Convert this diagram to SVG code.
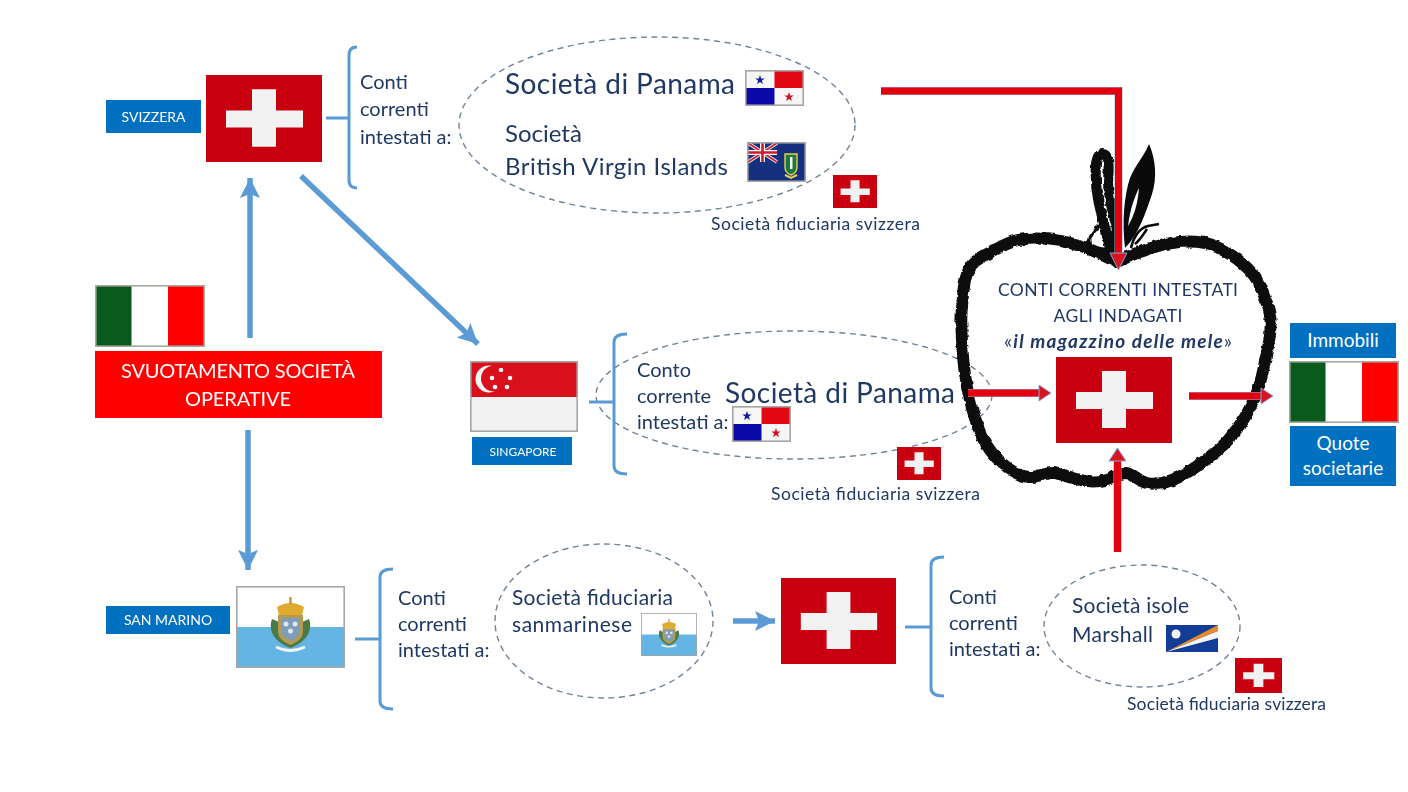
<svg xmlns="http://www.w3.org/2000/svg" xmlns:xlink="http://www.w3.org/1999/xlink" width="1408" height="792" viewBox="0 0 1408 792">
<style>
text{font-family:Lato,"Noto Sans","Liberation Sans",sans-serif;fill:#1f3864}
.w{fill:#fff;text-anchor:middle}
.body{font-size:20px}
.small{font-size:17.5px}
.big{font-size:28px}
.mid{font-size:24px}
.fid{font-size:21px}
.oval{fill:none;stroke:#6f8498;stroke-width:1.4;stroke-dasharray:6 4.5}
.br{fill:none;stroke:#5b9bd5;stroke-width:3}
.blue{fill:none;stroke:#5b9bd5;stroke-width:5.5}
.redO{fill:none;stroke:#8fb4da;stroke-width:8}
.red{fill:none;stroke:#e3000f;stroke-width:7}
.head{fill:#d8141f;stroke:#7fa8d4;stroke-width:1}
.lbl{fill:#0070c0}
</style>
<defs>
<marker id="ab" markerUnits="userSpaceOnUse" markerWidth="22" markerHeight="24" refX="20" refY="12" orient="auto"><path d="M0,2 L20,12 L0,22 L4,12 Z" fill="#5b9bd5"/></marker>
<symbol id="ch" viewBox="0 0 116 86" preserveAspectRatio="none"><rect width="116" height="86" fill="#c8000f"/><path d="M46,14H70V35H97V52H70V71H46V52H20V35H46Z" fill="#f2f2f2"/></symbol>
<symbol id="it" viewBox="0 0 110 62" preserveAspectRatio="none"><rect width="110" height="62" fill="#fff"/><rect width="36.5" height="62" fill="#0b5a1d"/><rect x="73" width="37" height="62" fill="#f00"/><rect x="0.8" y="0.8" width="108.4" height="60.4" fill="none" stroke="#a8a8a0" stroke-width="1.6"/></symbol>
<symbol id="pa" viewBox="0 0 59 36" preserveAspectRatio="none"><rect width="59" height="36" fill="#f6f6f6"/><rect x="29.5" y="1" width="28.5" height="17" fill="#e30613"/><rect x="1" y="18" width="28.5" height="17" fill="#0a0aa8"/><path d="M15,5l1.2,3.4h3.5l-2.8,2.1 1,3.4-2.9-2-2.9,2 1-3.4-2.8-2.1h3.5Z" fill="#1a1a9c"/><path d="M44,22l1.2,3.4h3.5l-2.8,2.1 1,3.4-2.9-2-2.9,2 1-3.4-2.8-2.1h3.5Z" fill="#d01020"/><rect x="0.8" y="0.8" width="57.4" height="34.4" fill="none" stroke="#a6a6a6" stroke-width="1.6"/></symbol>
<symbol id="vg" viewBox="0 0 59 40" preserveAspectRatio="none"><rect width="59" height="40" fill="#14307f"/><path d="M1,1L30,20M30,1L1,20" stroke="#e9e9ee" stroke-width="3.500"/><path d="M1,1L30,20M30,1L1,20" stroke="#c81e30" stroke-width="1.500"/><path d="M15.5,1V20M1,10.5H30" stroke="#fff" stroke-width="5"/><path d="M15.5,1V20M1,10.5H30" stroke="#c81e30" stroke-width="2.6"/><path d="M38,12H50V25Q50,31 44,33Q38,31 38,25Z" fill="#1e7a3c" stroke="#e8d050" stroke-width="1.4"/><path d="M38,33L44,36L50,33" fill="none" stroke="#e8d050" stroke-width="2"/><rect x="43" y="15" width="2.500" height="12" fill="#f4f4f0"/><rect x="0.8" y="0.8" width="57.4" height="38.4" fill="none" stroke="#a6a6a6" stroke-width="1.6"/></symbol>
<symbol id="sg" viewBox="0 0 108 71" preserveAspectRatio="none"><rect width="108" height="71" fill="#f2f2f2"/><rect width="108" height="36" fill="#d7101c"/><circle cx="19" cy="18" r="13.5" fill="#f4f4f4"/><circle cx="24" cy="17.500" r="13" fill="#d7101c"/><g fill="#f4f4f4"><circle cx="31" cy="9" r="2.3"/><circle cx="22" cy="17" r="2.3"/><circle cx="40" cy="17" r="2.3"/><circle cx="25" cy="26" r="2.3"/><circle cx="37" cy="26" r="2.3"/></g><rect x="0.8" y="0.8" width="106.4" height="69.4" fill="none" stroke="#a6a6a6" stroke-width="1.6"/></symbol>
<symbol id="sm" viewBox="0 0 109 82" preserveAspectRatio="none"><rect width="109" height="82" fill="#fff"/><rect y="41" width="109" height="41" fill="#64b4e4"/><path d="M36,33C32,44 38,56 54.500,62C71,56 77,44 73,33L66,36V50L54.500,56L43,50V36Z" fill="#4c7a46"/><path d="M42,29H67V46Q67,54 54.500,59Q42,54 42,46Z" fill="#b59a52"/><path d="M45.500,32H63.500V45Q63.500,51 54.500,55Q45.500,51 45.500,45Z" fill="#7f9cb8"/><g fill="#dfe7ee"><circle cx="50" cy="38" r="2.500"/><circle cx="59" cy="38" r="2.500"/><circle cx="54.500" cy="45" r="2.500"/></g><path d="M43,29L41,21Q48,17 54.500,17Q61,17 68,21L66,29Z" fill="#e0a92f"/><rect x="53.300" y="11" width="2.400" height="7" fill="#c8962a"/><path d="M40,61Q54,68 69,61" fill="none" stroke="#f2f2f2" stroke-width="3"/><rect x="0.8" y="0.8" width="107.4" height="80.4" fill="none" stroke="#a6a6a6" stroke-width="1.6"/></symbol>
<symbol id="mh" viewBox="0 0 52 27" preserveAspectRatio="none"><rect width="52" height="27" fill="#123c96"/><path d="M0,27L52,0V6Z" fill="#e8892a"/><path d="M0,27L52,6V13Z" fill="#f4f4f4"/><circle cx="10" cy="9" r="4.500" fill="#f4f4f4"/></symbol>
<filter id="rough" x="-5%" y="-5%" width="110%" height="110%"><feTurbulence type="fractalNoise" baseFrequency="0.14" numOctaves="3" seed="4"/><feDisplacementMap in="SourceGraphic" scale="4" xChannelSelector="R" yChannelSelector="G"/></filter>
</defs>
<rect width="1408" height="792" fill="#fff"/>

<g id="ovals">
<ellipse class="oval" cx="657" cy="125" rx="198" ry="88"/>
<ellipse class="oval" cx="794" cy="395" rx="198" ry="64"/>
<ellipse class="oval" cx="604" cy="621" rx="109" ry="77"/>
<ellipse class="oval" cx="1142" cy="626" rx="98" ry="61"/>
</g>

<g id="apple">
<g filter="url(#rough)" fill="none" stroke="#0a0a0a">
<path transform="translate(1117 360) scale(0.985 1) translate(-1117 -360)" stroke-width="12" d="M1117,262C1128,257 1134,254 1140,252C1152,248 1162,244 1173,243C1185,241 1196,241 1207,243C1217,245 1225,250 1233,255C1242,261 1251,268 1257,277C1262,284 1265,292 1268,300C1271,308 1273,315 1273,323C1273,335 1271,346 1268,357C1266,368 1264,379 1260,390C1257,399 1252,408 1247,417C1242,425 1236,433 1230,440C1222,449 1212,456 1203,463C1193,470 1184,476 1173,480C1165,483 1155,485 1147,483C1139,481 1134,474 1127,473C1120,472 1114,478 1107,480C1098,482 1089,482 1080,480C1071,478 1062,474 1053,473C1044,472 1036,478 1027,477C1017,476 1008,470 1000,463C992,456 985,447 980,437C974,424 970,410 967,397C963,381 961,364 960,347C959,332 958,318 960,303C961,290 962,277 968,267C972,260 980,257 987,253C997,248 1006,242 1017,240C1029,238 1041,238 1053,240C1064,241 1074,244 1083,247C1095,251 1106,257 1117,262Z"/>
<path stroke-width="10" d="M1110,250C1107,228 1096,205 1096,180C1095,165 1096,154 1102,154C1110,154 1109,168 1108,182C1108,198 1113,212 1116,224C1118,236 1116,248 1115,256"/>
<path stroke-width="3.500" d="M1104,222C1092,232 1086,240 1092,246C1098,250 1106,248 1111,252"/>
</g>
<path fill="#0a0a0a" d="M1125,248C1122,222 1124,196 1130,178C1136,164 1143,158 1149,144C1156,160 1157,178 1152,194C1146,212 1139,234 1125,248Z"/>
<path fill="#fff" d="M1128,226C1130,210 1134,198 1139,188C1138,203 1134,216 1128,226Z"/>
<path fill="none" stroke="#0a0a0a" stroke-width="2.500" d="M1131,248C1133,238 1139,228 1148,226L1159,224M1135,244C1140,240 1143,235 1147,229"/>
</g>

<g id="connectors">
<path class="blue" marker-end="url(#ab)" d="M250,338V178"/>
<path class="blue" marker-end="url(#ab)" d="M248,430V570"/>
<path class="blue" marker-end="url(#ab)" d="M301,176L478,344"/>
<path class="blue" marker-end="url(#ab)" d="M733,621H775"/>
<path class="br" d="M326,118H349M357,47Q349,47 349,55V180Q349,188 357,188"/>
<path class="br" d="M589,402H614M627,334Q614,334 614,342V466Q614,474 627,474"/>
<path class="br" d="M355,639H380M393,569Q380,569 380,577V701Q380,709 393,709"/>
<path class="br" d="M905,627H931M944,557Q931,557 931,565V688Q931,696 944,696"/>
<path class="redO" d="M881,91H1118.500V255"/>
<path class="red" d="M881,91H1118.500V258"/>
<path class="head" d="M1110,253H1127L1118.500,270Z"/>
<path class="redO" d="M968,393H1040"/><path class="red" d="M968,393H1040"/>
<path class="head" d="M1039,385L1051,393L1039,401Z"/>
<path class="redO" d="M1189,396H1262"/><path class="red" d="M1189,396H1262"/>
<path class="head" d="M1261,388L1273,396L1261,404Z"/>
<path class="redO" d="M1117.500,552V460"/><path class="red" d="M1117.500,552V460"/>
<path class="head" d="M1109,461L1117.500,448L1126,461Z"/>
</g>

<g id="node-italia">
<use href="#it" xlink:href="#it" x="95" y="285" width="110" height="62"/>
<rect x="95" y="351" width="287" height="67" fill="#f00"/>
<text class="w" x="238" y="378" style="font-size:20px" textLength="234">SVUOTAMENTO SOCIETÀ</text>
<text class="w" x="238" y="406" style="font-size:20px" textLength="106">OPERATIVE</text>
</g>

<g id="node-svizzera">
<rect class="lbl" x="106" y="100" width="95" height="33"/>
<text class="w" x="153.500" y="122" style="font-size:14px">SVIZZERA</text>
<use href="#ch" xlink:href="#ch" x="206" y="75" width="116" height="87"/>
<text class="body" x="360" y="89">Conti</text>
<text class="body" x="360" y="116">correnti</text>
<text class="body" x="360" y="144">intestati a:</text>
</g>

<g id="node-top-oval">
<text class="big" x="505" y="94" textLength="230">Società di Panama</text>
<use href="#pa" xlink:href="#pa" x="745" y="70" width="59" height="36"/>
<text class="mid" x="505" y="142">Società</text>
<text class="mid" x="505" y="175" textLength="223">British Virgin Islands</text>
<use href="#vg" xlink:href="#vg" x="747" y="142" width="59" height="40"/>
<use href="#ch" xlink:href="#ch" x="833" y="175" width="44" height="33"/>
<text class="small" x="711" y="230" textLength="209">Società fiduciaria svizzera</text>
</g>

<g id="node-singapore">
<use href="#sg" xlink:href="#sg" x="470" y="361" width="108" height="71"/>
<rect class="lbl" x="472" y="437" width="100" height="28"/>
<text class="w" x="523" y="456" style="font-size:12px">SINGAPORE</text>
<text class="body" x="637" y="377">Conto</text>
<text class="body" x="637" y="403">corrente</text>
<text class="body" x="637" y="429">intestati a:</text>
<text class="big" x="725" y="403" textLength="230">Società di Panama</text>
<use href="#pa" xlink:href="#pa" x="732" y="406" width="59" height="36"/>
<use href="#ch" xlink:href="#ch" x="897" y="447" width="44" height="33"/>
<text class="small" x="771" y="500" textLength="209">Società fiduciaria svizzera</text>
</g>

<g id="node-sanmarino">
<rect class="lbl" x="106" y="606" width="124" height="28"/>
<text class="w" x="168" y="625" style="font-size:14px">SAN MARINO</text>
<use href="#sm" xlink:href="#sm" x="236" y="586" width="109" height="82"/>
<text class="body" x="398" y="605">Conti</text>
<text class="body" x="398" y="631">correnti</text>
<text class="body" x="398" y="657">intestati a:</text>
<text class="fid" x="512" y="605" textLength="161">Società fiduciaria</text>
<text class="fid" x="512" y="632" textLength="120">sanmarinese</text>
<use href="#sm" xlink:href="#sm" x="641" y="613" width="56" height="43"/>
</g>

<g id="node-svizzera-2">
<use href="#ch" xlink:href="#ch" x="781" y="578" width="115" height="86"/>
<text class="body" x="949" y="604">Conti</text>
<text class="body" x="949" y="630">correnti</text>
<text class="body" x="949" y="656">intestati a:</text>
<text class="fid" x="1072" y="613" textLength="117">Società isole</text>
<text class="fid" x="1072" y="642" textLength="81">Marshall</text>
<use href="#mh" xlink:href="#mh" x="1166" y="625" width="52" height="27"/>
<use href="#ch" xlink:href="#ch" x="1235" y="658" width="47" height="35"/>
<text class="small" x="1127" y="710" textLength="199">Società fiduciaria svizzera</text>
</g>

<g id="node-magazzino">
<text x="1118" y="296" text-anchor="middle" style="font-size:17.500px" textLength="240">CONTI CORRENTI INTESTATI</text>
<text x="1118" y="322" text-anchor="middle" style="font-size:17.500px" textLength="129">AGLI INDAGATI</text>
<text x="1118" y="348" text-anchor="middle" style="font-size:19px" textLength="228">«<tspan font-weight="700" font-style="italic">il magazzino delle mele</tspan>»</text>
<use href="#ch" xlink:href="#ch" x="1056" y="357" width="116" height="86"/>
</g>

<g id="node-italia-2">
<rect class="lbl" x="1290" y="323" width="106" height="35"/>
<text class="w" x="1343" y="347" style="font-size:19px">Immobili</text>
<use href="#it" xlink:href="#it" x="1289" y="361" width="110" height="62"/>
<rect class="lbl" x="1290" y="426" width="106" height="60"/>
<text class="w" x="1343" y="450" style="font-size:19px">Quote</text>
<text class="w" x="1343" y="475" style="font-size:19px">societarie</text>
</g>
</svg>
